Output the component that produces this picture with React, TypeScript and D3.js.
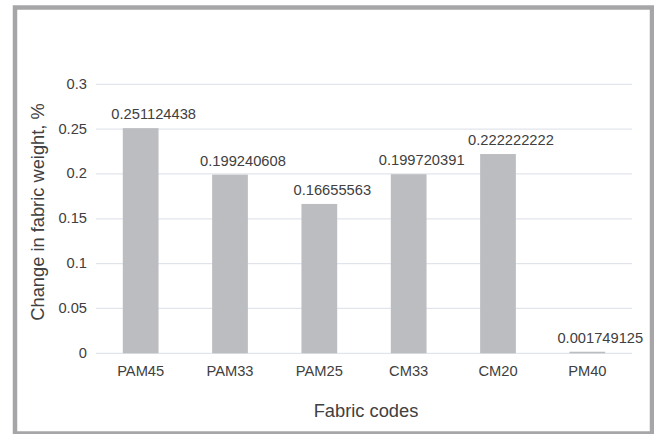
import React from "react";
import * as d3 from "d3";

const categories = ["PAM45", "PAM33", "PAM25", "CM33", "CM20", "PM40"];
const values = [0.251124438, 0.199240608, 0.16655563, 0.199720391, 0.222222222, 0.001749125];
const valueLabels = ["0.251124438", "0.199240608", "0.16655563", "0.199720391", "0.222222222", "0.001749125"];
const yTicks = [0, 0.05, 0.1, 0.15, 0.2, 0.25, 0.3];
const yTickLabels = ["0", "0.05", "0.1", "0.15", "0.2", "0.25", "0.3"];
const xTitle = "Fabric codes";
const yTitle = "Change in fabric weight, %";

const W = 654;
const H = 434;
const plot = { left: 96, right: 632, top: 84.3, bottom: 353.3 };
const font = "'Liberation Sans', Arial, sans-serif";
const textColor = "#404040";

export default function App() {
  const x = d3
    .scaleBand<string>()
    .domain(categories)
    .range([plot.left, plot.right])
    .paddingInner(0.6)
    .paddingOuter(0.3);
  const y = d3.scaleLinear().domain([0, 0.3]).range([plot.bottom, plot.top]);
  const labelDx = 13;

  return (
    <svg
      width={W}
      height={H}
      style={{ position: "absolute", left: 0, top: 0, background: "#fff" }}
      fontFamily={font}
    >
      <rect x={0} y={0} width={W} height={H} fill="#ffffff" />
      {yTicks.map((t, i) => (
        <g key={"g" + i}>
          <line
            x1={plot.left}
            x2={plot.right}
            y1={y(t)}
            y2={y(t)}
            stroke="#e1e5eb"
            strokeWidth={1.2}
          />
          <text
            x={87}
            y={y(t) + 4.5}
            textAnchor="end"
            fontSize={14.7}
            fill={textColor}
          >
            {yTickLabels[i]}
          </text>
        </g>
      ))}
      {categories.map((c, i) => {
        const bx = x(c)!;
        const bw = x.bandwidth();
        return (
          <g key={c}>
            <rect
              x={bx}
              y={y(values[i])}
              width={bw}
              height={y(0) - y(values[i])}
              fill="#bcbdc1"
            />
            <text
              x={bx + bw / 2 + labelDx}
              y={y(values[i]) - 9}
              textAnchor="middle"
              fontSize={14.7}
              fill={textColor}
            >
              {valueLabels[i]}
            </text>
            <text
              x={bx + bw / 2}
              y={376}
              textAnchor="middle"
              fontSize={14.7}
              fill={textColor}
            >
              {c}
            </text>
          </g>
        );
      })}
      <text
        x={(plot.left + plot.right) / 2 + 2}
        y={416.5}
        textAnchor="middle"
        fontSize={18.3}
        fill={textColor}
      >
        {xTitle}
      </text>
      <text
        transform={`translate(43.5, 212) rotate(-90)`}
        textAnchor="middle"
        fontSize={18.3}
        fill={textColor}
      >
        {yTitle}
      </text>
      <rect
        x={15}
        y={7.5}
        width={637}
        height={426}
        fill="none"
        stroke="#a6a6a8"
        strokeWidth={4.5}
      />
    </svg>
  );
}
